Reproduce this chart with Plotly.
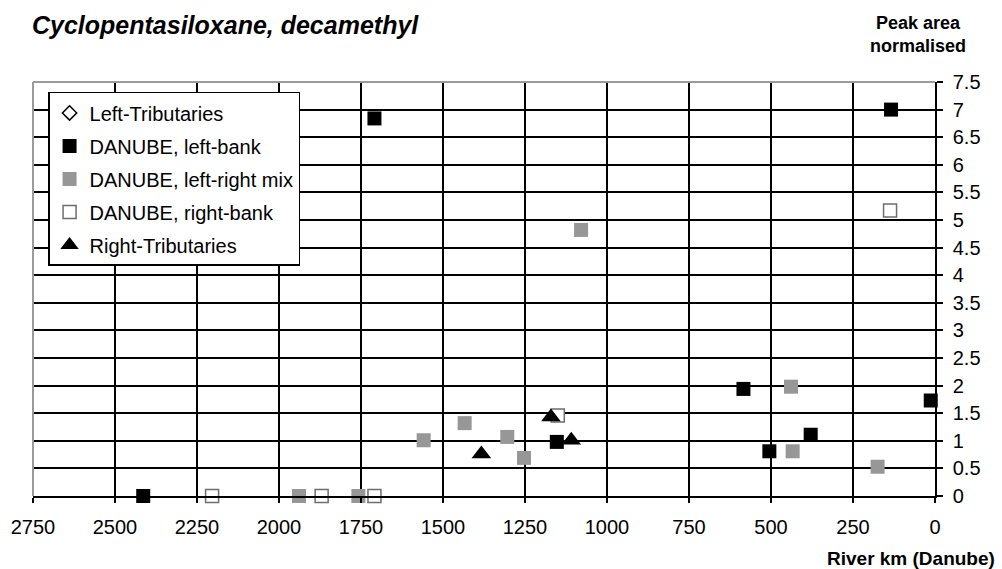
import plotly.graph_objects as go

# ---- data ----
left_trib_km = []
left_trib_val = []

left_bank_km = [2414, 1709, 1153, 584, 505, 379, 134, 13]
left_bank_val = [0, 6.84, 0.98, 1.94, 0.81, 1.11, 7.0, 1.73]

mix_km = [1939, 1758, 1559, 1434, 1304, 1253, 1079, 439, 434, 175]
mix_val = [0, 0, 1.01, 1.32, 1.07, 0.69, 4.82, 1.98, 0.81, 0.53]

right_bank_km = [2204, 1870, 1709, 1150, 137]
right_bank_val = [0, 0, 0, 1.46, 5.17]

right_trib_km = [1383, 1171, 1109]
right_trib_val = [0.76, 1.43, 1.01]

x_ticks = [2750, 2500, 2250, 2000, 1750, 1500, 1250, 1000, 750, 500, 250, 0]
y_ticks = [i * 0.5 for i in range(16)]

FONT = "Liberation Sans, Arial, Helvetica, sans-serif"

fig = go.Figure()

series = [
    ("Left-Tributaries", left_trib_km, left_trib_val,
     dict(symbol="diamond-open", size=11, color="black", line=dict(width=1.5, color="black"))),
    ("DANUBE, left-bank", left_bank_km, left_bank_val,
     dict(symbol="square", size=14, color="black", line=dict(width=0))),
    ("DANUBE, left-right mix", mix_km, mix_val,
     dict(symbol="square", size=14, color="#979797", line=dict(width=0))),
    ("DANUBE, right-bank", right_bank_km, right_bank_val,
     dict(symbol="square", size=13, color="white", line=dict(width=1.5, color="#6e6e6e"))),
    ("Right-Tributaries", right_trib_km, right_trib_val,
     dict(symbol="triangle-up", size=17, color="black", line=dict(width=0))),
]

for i, (name, xs, ys, mk) in enumerate(series):
    if len(xs) == 0:
        xs, ys = [None], [None]
    fig.add_trace(go.Scatter(
        x=xs, y=ys, mode="markers", name=name, marker=mk,
        legendgroup=f"g{i}", cliponaxis=False,
    ))

fig.update_layout(
    width=1002, height=569,
    margin=dict(l=33, r=67, t=82, b=73),
    paper_bgcolor="white", plot_bgcolor="white",
    font=dict(family=FONT, size=20, color="black"),
    showlegend=True,
    legend=dict(
        x=0.0167, y=0.976, xanchor="left", yanchor="top",
        bgcolor="white", bordercolor="black", borderwidth=1.5,
        font=dict(family=FONT, size=20, color="black"),
        tracegroupgap=4, itemwidth=30,
    ),
    xaxis=dict(
        range=[2750, 0], tickmode="array", tickvals=x_ticks,
        ticktext=[str(v) for v in x_ticks],
        showgrid=True, gridcolor="black", gridwidth=1.5,
        showline=True, linecolor="black", linewidth=1.5,
        ticks="outside", ticklen=5, tickwidth=1.5, tickcolor="black",
        zeroline=False, ticklabelstandoff=7,
        tickfont=dict(family=FONT, size=20, color="black"),
    ),
    yaxis=dict(
        range=[0, 7.5], side="right", tickmode="array", tickvals=y_ticks,
        ticktext=[f"{v:g}" for v in y_ticks],
        showgrid=True, gridcolor="black", gridwidth=1.5,
        showline=True, linecolor="black", linewidth=1.5,
        ticks="outside", ticklen=6, tickwidth=1.5, tickcolor="black",
        zeroline=False, ticklabelstandoff=6,
        tickfont=dict(family=FONT, size=20, color="black"),
    ),
    shapes=[
        dict(type="line", xref="paper", yref="paper", x0=0, x1=1, y0=1, y1=1,
             line=dict(color="#9a9a9a", width=2), layer="above"),
        dict(type="line", xref="paper", yref="paper", x0=0, x1=0, y0=0, y1=1,
             line=dict(color="#9a9a9a", width=2), layer="above"),
    ],
    annotations=[
        dict(text="<b><i>Cyclopentasiloxane, decamethyl</i></b>", xref="paper", yref="paper",
             x=-0.003, y=1.0, xanchor="left", yanchor="bottom", yshift=41,
             showarrow=False, font=dict(family=FONT, size=25, color="black")),
        dict(text="<b>Peak area<br>normalised</b>", xref="paper", yref="paper",
             x=1.0, y=1.0, xanchor="center", yanchor="bottom", xshift=-17, yshift=24,
             showarrow=False, align="center",
             font=dict(family=FONT, size=18, color="black")),
        dict(text="<b>River km (Danube)</b>", xref="paper", yref="paper",
             x=1.0, y=0.0, xanchor="right", yanchor="top", xshift=62, yshift=-50,
             showarrow=False, font=dict(family=FONT, size=19, color="black")),
    ],
)

fig.write_html(
    "out.html",
    config={"displayModeBar": False},
    post_script="document.body.style.margin='0';document.body.style.padding='0';document.body.style.overflow='hidden';",
)
